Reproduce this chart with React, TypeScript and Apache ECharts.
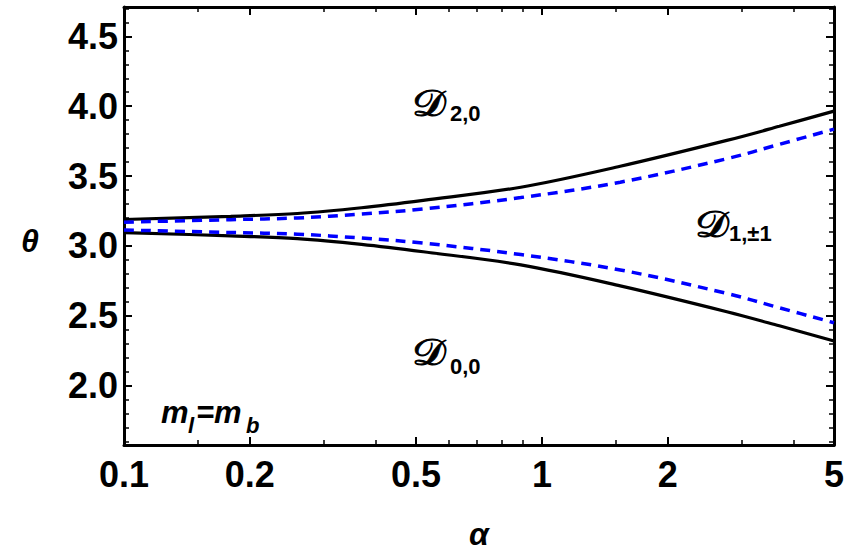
import React, { useEffect, useRef } from "react";
import * as echarts from "echarts";

// alpha samples (x, log axis) and theta boundaries (y)
const alpha = [0.1, 0.18, 0.26, 0.37, 0.52, 0.89, 1.54, 2.77, 3.7, 5];
const solidUpper = [3.189, 3.212, 3.232, 3.273, 3.326, 3.42, 3.57, 3.755, 3.856, 3.965];
const solidLower = [3.095, 3.072, 3.052, 3.011, 2.958, 2.864, 2.714, 2.529, 2.428, 2.319];
const dashedUpper = [3.17, 3.188, 3.2, 3.228, 3.264, 3.346, 3.456, 3.624, 3.727, 3.836];
const dashedLower = [3.114, 3.096, 3.084, 3.056, 3.02, 2.938, 2.828, 2.66, 2.557, 2.45];

const xMajorTicks = [0.1, 0.2, 0.5, 1, 2, 5];
const xMinorTicks = [0.15, 0.3, 0.4, 0.6, 0.7, 0.8, 0.9, 1.5, 3, 4];
const yMajorTicks = [2.0, 2.5, 3.0, 3.5, 4.0, 4.5];
const yMinorTicks = [1.6, 1.7, 1.8, 1.9, 2.1, 2.2, 2.3, 2.4, 2.6, 2.7, 2.8, 2.9, 3.1, 3.2, 3.3, 3.4, 3.6, 3.7, 3.8, 3.9, 4.1, 4.2, 4.3, 4.4, 4.6, 4.7];

const X_MIN = 0.1;
const X_MAX = 5;
const Y_MIN = 1.575;
const Y_MAX = 4.71;

const FONT = "'Liberation Sans', Arial, sans-serif";
const SCRIPT_FONT = "'DejaVu Serif', 'DejaVu Sans', 'Noto Sans', serif";

const lg = (v: number) => Math.log10(v);

export default function App() {
  const ref = useRef<HTMLDivElement>(null);
  useEffect(() => {
    if (!ref.current) return;
    const chart = echarts.init(ref.current, null, { renderer: "svg" });
    const toPairs = (ys: number[]) => alpha.map((a, i) => [lg(a), ys[i]]);
    const xFmt = (v: number) => {
      const r = Math.round(Math.pow(10, v) * 100) / 100;
      return r < 1 ? r.toFixed(1) : String(r);
    };
    const lineAxis = { show: true, onZero: false, lineStyle: { color: "#000", width: 3 } };
    const noLine = { show: false, onZero: false };
    const mkX = (position: string, major: boolean, labels: boolean, line: boolean) => ({
      type: "value",
      position,
      min: lg(X_MIN),
      max: lg(X_MAX),
      axisLine: line ? lineAxis : noLine,
      splitLine: { show: false },
      axisTick: {
        show: true,
        inside: true,
        length: major ? 8 : 5,
        customValues: (major ? xMajorTicks : xMinorTicks).map(lg),
        lineStyle: { color: "#000", width: major ? 2 : 1.5 },
      },
      axisLabel: labels
        ? {
            show: true,
            customValues: xMajorTicks.map(lg),
            formatter: xFmt,
            color: "#000",
            fontFamily: FONT,
            fontWeight: "bold",
            fontSize: 36,
            margin: 11,
          }
        : { show: false },
    });
    const mkY = (position: string, major: boolean, labels: boolean, line: boolean) => ({
      type: "value",
      position,
      min: Y_MIN,
      max: Y_MAX,
      axisLine: line ? lineAxis : noLine,
      splitLine: { show: false },
      axisTick: {
        show: true,
        inside: true,
        length: major ? 8 : 5,
        customValues: major ? yMajorTicks : yMinorTicks,
        lineStyle: { color: "#000", width: major ? 2 : 1.5 },
      },
      axisLabel: labels
        ? {
            show: true,
            customValues: yMajorTicks,
            formatter: (v: number) => v.toFixed(1),
            color: "#000",
            fontFamily: FONT,
            fontWeight: "bold",
            fontSize: 36,
            margin: 6,
          }
        : { show: false },
    });
    const lineSeries = (data: number[][], color: string, dashed: boolean) => ({
      type: "line",
      xAxisIndex: 0,
      yAxisIndex: 0,
      data,
      smooth: 0.35,
      symbol: "none",
      lineStyle: { color, width: dashed ? 3.5 : 3.2, type: dashed ? [10, 7] : "solid" },
      z: dashed ? 3 : 2,
    });
    const txt = (text: string, x: number, y: number, size: number, opts: any = {}) => ({
      type: "text",
      x,
      y,
      scaleX: opts.scaleX || 1,
      style: {
        text,
        fontSize: size,
        fontFamily: opts.family || FONT,
        fontWeight: opts.weight || "bold",
        fontStyle: opts.style || "normal",
        fill: "#000",
        stroke: opts.stroke ? "#000" : undefined,
        lineWidth: opts.stroke || 0,
        align: opts.align || "left",
        verticalAlign: "middle",
      },
    });
    const scriptOpts = { family: SCRIPT_FONT, weight: "normal", stroke: 0.9, scaleX: 1.15 };
    chart.setOption({
      animation: false,
      backgroundColor: "#fff",
      grid: { left: 124, right: 13, top: 7, bottom: 109, outerBoundsMode: "none", containLabel: false },
      xAxis: [
        mkX("bottom", true, true, true),
        mkX("bottom", false, false, false),
        mkX("top", true, false, true),
        mkX("top", false, false, false),
      ],
      yAxis: [
        mkY("left", true, true, true),
        mkY("left", false, false, false),
        mkY("right", true, false, true),
        mkY("right", false, false, false),
      ],
      series: [
        lineSeries(toPairs(solidUpper), "#000", false),
        lineSeries(toPairs(solidLower), "#000", false),
        lineSeries(toPairs(dashedUpper), "#0000ff", true),
        lineSeries(toPairs(dashedLower), "#0000ff", true),
      ],
      graphic: [
        txt("θ", 30, 241, 32, { style: "italic", align: "center" }),
        txt("α", 479, 534, 32, { style: "italic", align: "center" }),
        txt("𝒟", 412, 103, 37, scriptOpts),
        txt("2,0", 450, 113, 22),
        txt("𝒟", 412, 352, 37, scriptOpts),
        txt("0,0", 450, 366, 22),
        txt("𝒟", 695, 224, 37, scriptOpts),
        txt("1,±1", 729, 233, 22),
        txt("m", 161, 412, 31, { style: "italic" }),
        txt("l", 188, 425, 22, { style: "italic" }),
        txt("=m", 196, 412, 31, { style: "italic" }),
        txt("b", 246, 425, 22, { style: "italic" }),
      ],
    });
    return () => chart.dispose();
  }, []);
  return (
    <div
      ref={ref}
      style={{ position: "absolute", left: 0, top: 0, width: 847, height: 554 }}
    />
  );
}
